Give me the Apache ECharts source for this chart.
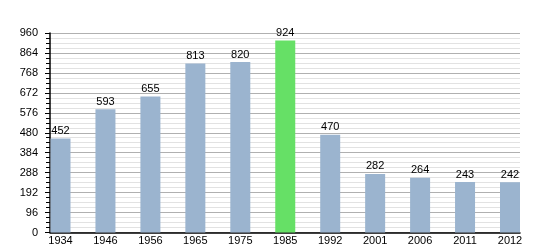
<!DOCTYPE html>
<html><head><meta charset="utf-8">
<script src="https://cdn.jsdelivr.net/npm/echarts@6/dist/echarts.min.js"></script>
<style>html,body{margin:0;padding:0;background:#fff}#c{width:550px;height:250px}</style>
</head><body><div id="c"></div>
<script>
var years = ['1934','1946','1956','1965','1975','1985','1992','2001','2006','2011','2012'];
var population = [452, 593, 655, 813, 820, 924, 470, 282, 264, 243, 242];
var highlightYear = '1985';
var yMin = 0, yMax = 960, yStep = 96;

var chart = echarts.init(document.getElementById('c'), null, {renderer:'canvas'});
var font = 'Liberation Sans, Arial, sans-serif';
chart.setOption({
  animation: false,
  grid: [
    {left: 50, right: 30, top: 33, bottom: 17.5},
    {left: 60.5, right: 40, top: 33, bottom: 17.5}
  ],
  xAxis: [
    {gridIndex: 0, type: 'category', data: years, boundaryGap: true,
     axisLine: {show: true, lineStyle: {color: '#000', width: 1.5}},
     axisTick: {show: false}, axisLabel: {show: false}, splitLine: {show: false}},
    {gridIndex: 1, type: 'category', data: years, boundaryGap: false,
     axisLine: {show: false}, axisTick: {show: false},
     axisLabel: {show: true, color: '#000', fontSize: 11, fontFamily: font, margin: 3, interval: 0}}
  ],
  yAxis: [
    {gridIndex: 0, type: 'value', min: yMin, max: yMax, interval: yStep,
     axisLine: {show: true, lineStyle: {color: '#000', width: 1.5}},
     axisTick: {show: true, length: 5, lineStyle: {color: '#000'}},
     minorTick: {show: true, splitNumber: 4, length: 4, lineStyle: {color: '#000'}},
     axisLabel: {color: '#000', fontSize: 11, fontFamily: font, margin: 12},
     splitLine: {show: true, lineStyle: {color: '#b0b0b0', width: 1}},
     minorSplitLine: {show: true, lineStyle: {color: '#e2e2e2', width: 1}}},
    {gridIndex: 1, type: 'value', min: yMin, max: yMax, interval: yStep, show: false,
     splitLine: {show: false}}
  ],
  series: [{
    type: 'bar', xAxisIndex: 1, yAxisIndex: 1, barWidth: 20,
    data: population.map(function(v, i){
      return {value: v, itemStyle: {color: years[i] === highlightYear ? '#66e066' : '#9bb4cf'}};
    }),
    label: {show: true, position: 'top', distance: 2, color: '#000', fontSize: 11, fontFamily: font}
  }]
});
</script></body></html>
